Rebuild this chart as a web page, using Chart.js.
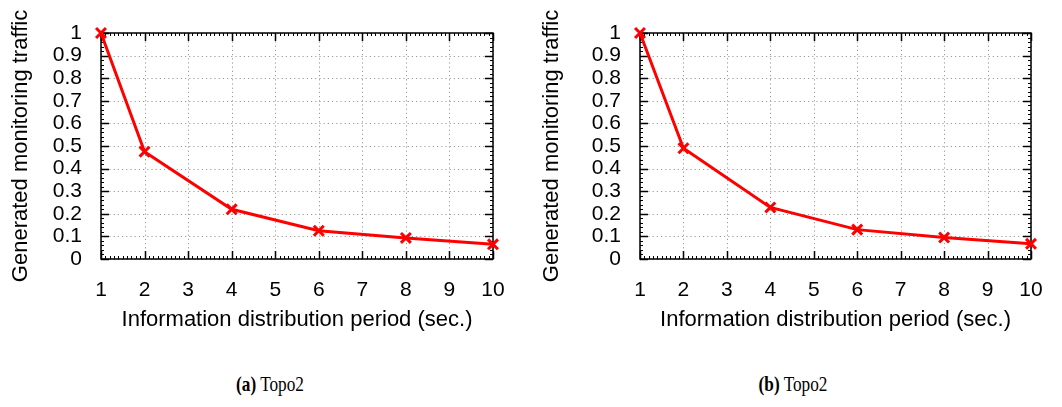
<!DOCTYPE html>
<html>
<head>
<meta charset="utf-8">
<script src="https://cdn.jsdelivr.net/npm/chart.js@4.4.0/dist/chart.umd.min.js"></script>
<style>
    html, body { margin: 0; padding: 0; background: #fff; }
    body { width: 1062px; height: 407px; position: relative; overflow: hidden; }
    .panel { position: absolute; top: 0; width: 531px; height: 345px; }
    .caption {
        position: absolute; top: 372px; width: 200px; text-align: center;
        font-family: "Liberation Serif", "DejaVu Serif", serif; font-size: 21px; color: #000;
        transform: scaleX(0.82);
    }
</style>
</head>
<body>
<div class="panel" style="left:0"><canvas id="chartA"></canvas></div>
<div class="panel" style="left:531px"><canvas id="chartB"></canvas></div>
<div class="caption" style="left:170px"><b>(a)</b> Topo2</div>
<div class="caption" style="left:693px"><b>(b)</b> Topo2</div>

<script>
// периоды распространения информации (сек.)
const periods = [1, 2, 4, 6, 8, 10];
// сгенерированный трафик мониторинга
const trafficA = [1.0, 0.475, 0.22, 0.125, 0.093, 0.065];
const trafficB = [1.0, 0.49, 0.228, 0.13, 0.095, 0.067];
const xTicks = [1, 2, 3, 4, 5, 6, 7, 8, 9, 10];
const yTicks = [0, 0.1, 0.2, 0.3, 0.4, 0.5, 0.6, 0.7, 0.8, 0.9, 1];

const xTitle = 'Information distribution period (sec.)';
const yTitle = 'Generated monitoring traffic';

// рамка, пунктирная сетка и засечки внутрь, как в gnuplot
const frameTicks = {
    id: 'frameTicks',
    beforeDatasetsDraw(chart) {
        const { ctx, chartArea: a, scales } = chart;
        const xs = scales.x, ys = scales.y;
        ctx.save();

        // сетка
        ctx.strokeStyle = '#9a9a9a';
        ctx.lineWidth = 1;
        ctx.setLineDash([1.2, 3]);
        xTicks.forEach(v => {
            const px = Math.round(xs.getPixelForValue(v)) + 0.5;
            ctx.beginPath(); ctx.moveTo(px, a.top); ctx.lineTo(px, a.bottom); ctx.stroke();
        });
        yTicks.forEach(v => {
            const py = Math.round(ys.getPixelForValue(v)) + 0.5;
            ctx.beginPath(); ctx.moveTo(a.left, py); ctx.lineTo(a.right, py); ctx.stroke();
        });
        ctx.setLineDash([]);

        // мелкие засечки
        ctx.strokeStyle = '#000';
        ctx.lineWidth = 1;
        for (let i = 0; i <= 90; i++) {
            const px = Math.round(xs.getPixelForValue(1 + i / 10)) + 0.5;
            ctx.beginPath();
            ctx.moveTo(px, a.bottom); ctx.lineTo(px, a.bottom - 3);
            ctx.moveTo(px, a.top); ctx.lineTo(px, a.top + 3);
            ctx.stroke();
        }
        for (let i = 0; i <= 50; i++) {
            const py = Math.round(ys.getPixelForValue(i / 50)) + 0.5;
            ctx.beginPath();
            ctx.moveTo(a.left, py); ctx.lineTo(a.left + 3, py);
            ctx.moveTo(a.right, py); ctx.lineTo(a.right - 3, py);
            ctx.stroke();
        }

        // основные засечки
        ctx.lineWidth = 1.5;
        xTicks.forEach(v => {
            const px = Math.round(xs.getPixelForValue(v)) + 0.5;
            ctx.beginPath();
            ctx.moveTo(px, a.bottom); ctx.lineTo(px, a.bottom - 8);
            ctx.moveTo(px, a.top); ctx.lineTo(px, a.top + 8);
            ctx.stroke();
        });
        yTicks.forEach(v => {
            const py = Math.round(ys.getPixelForValue(v)) + 0.5;
            ctx.beginPath();
            ctx.moveTo(a.left, py); ctx.lineTo(a.left + 8, py);
            ctx.moveTo(a.right, py); ctx.lineTo(a.right - 8, py);
            ctx.stroke();
        });

        // рамка
        ctx.lineWidth = 1.5;
        ctx.strokeRect(a.left, a.top, a.right - a.left, a.bottom - a.top);
        ctx.restore();
    }
};

const sans = '"Liberation Sans", Arial, sans-serif';

function makeChart(id, values, yWidth, rightPad) {
    const ctx = document.getElementById(id);
    return new Chart(ctx, {
        type: 'line',
        data: {
            datasets: [{
                data: periods.map((p, i) => ({ x: p, y: values[i] })),
                borderColor: '#ff0000',
                backgroundColor: '#ff0000',
                borderWidth: 3,
                pointStyle: 'crossRot',
                pointRadius: 7,
                pointBorderWidth: 3,
                tension: 0,
                clip: false
            }]
        },
        options: {
            responsive: true,
            maintainAspectRatio: false,
            animation: false,
            layout: { padding: { top: 33, right: rightPad, bottom: 0, left: 0 } },
            plugins: { legend: { display: false }, tooltip: { enabled: false } },
            scales: {
                x: {
                    type: 'linear',
                    min: 1, max: 10,
                    afterBuildTicks: s => { s.ticks = xTicks.map(v => ({ value: v })); },
                    afterFit: s => { s.height = 86; },
                    grid: { display: false },
                    border: { display: false },
                    ticks: {
                        color: '#000', padding: 11, autoSkip: false, maxRotation: 0,
                        font: { family: sans, size: 21 }
                    },
                    title: {
                        display: true, text: xTitle, color: '#000',
                        padding: { top: 0, bottom: 12 },
                        font: { family: sans, size: 22 }
                    }
                },
                y: {
                    min: 0, max: 1,
                    afterBuildTicks: s => { s.ticks = yTicks.map(v => ({ value: v })); },
                    afterFit: s => { s.width = yWidth; },
                    grid: { display: false },
                    border: { display: false },
                    ticks: {
                        color: '#000', padding: 11, autoSkip: false,
                        callback: v => String(Math.round(v * 10) / 10),
                        font: { family: sans, size: 21 }
                    },
                    title: {
                        display: true, text: yTitle, color: '#000',
                        padding: { top: 7.5, bottom: 0 },
                        font: { family: sans, size: 22 }
                    }
                }
            }
        },
        plugins: [frameTicks]
    });
}

makeChart('chartA', trafficA, 101, 38);
makeChart('chartB', trafficB, 109, 31);
</script>
</body>
</html>
